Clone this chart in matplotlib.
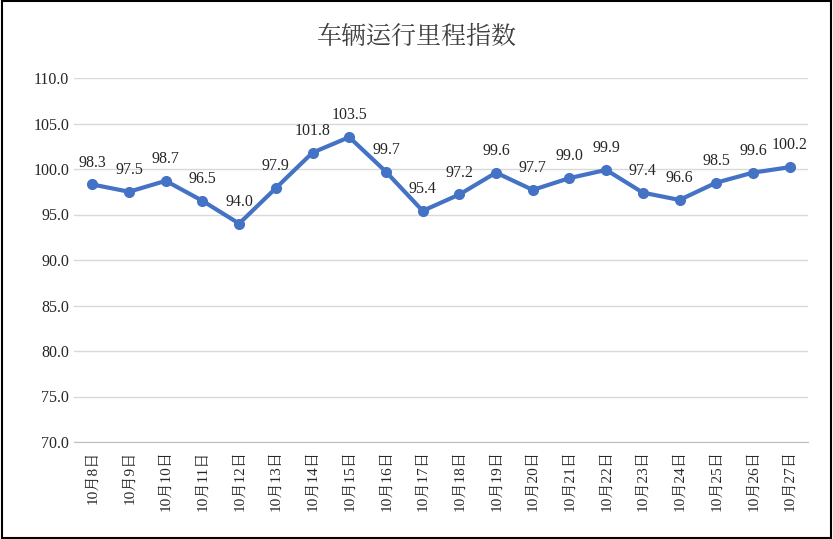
import matplotlib
matplotlib.use("Agg")
import matplotlib.pyplot as plt
from matplotlib import font_manager as fm
from matplotlib.patches import Rectangle

categories = ["10月8日","10月9日","10月10日","10月11日","10月12日","10月13日","10月14日","10月15日","10月16日","10月17日",
              "10月18日","10月19日","10月20日","10月21日","10月22日","10月23日","10月24日","10月25日","10月26日","10月27日"]
values = [98.3,97.5,98.7,96.5,94.0,97.9,101.8,103.5,99.7,95.4,97.2,99.6,97.7,99.0,99.9,97.4,96.6,98.5,99.6,100.2]
yticks = [70,75,80,85,90,95,100,105,110]

cjk = None
for f in fm.fontManager.ttflist:
    if "CJK" in f.name:
        cjk = f.name
        if "SC" in f.name:
            break
if cjk is None:
    for p in fm.findSystemFonts():
        if "CJK" in p:
            fm.fontManager.addfont(p)
            cjk = fm.FontProperties(fname=p).get_name()
            break
fams = ["Liberation Serif"] + ([cjk] if cjk else [])
plt.rcParams["font.family"] = fams

fig = plt.figure(figsize=(8.33, 5.39), dpi=100)
ax = fig.add_axes([74/833, 1-442/539, (808-74)/833, (442-78)/539])
x = list(range(len(values)))
ax.plot(x, values, color="#4472C4", lw=3, marker="o", ms=7, zorder=3)
for xi, v in zip(x, values):
    ax.annotate(f"{v:.1f}", (xi, v), xytext=(0, 10), textcoords="offset points",
                ha="center", va="bottom", fontsize=11.5, color="#262626")
ax.set_xlim(-0.5, len(values)-0.5)
ax.set_ylim(70, 110)
ax.set_yticks(yticks)
ax.set_yticklabels([f"{t:.1f}" for t in yticks], fontsize=11.5, color="#262626")
ax.set_xticks(x)
ax.set_xticklabels(categories, rotation=90, fontsize=11, color="#262626")
ax.grid(axis="y", color="#D9D9D9", lw=1)
for s in ["top", "right", "left"]:
    ax.spines[s].set_visible(False)
ax.spines["bottom"].set_color("#BFBFBF")
ax.tick_params(axis="y", length=0)
ax.tick_params(axis="x", length=0, pad=6)
fig.text(0.5, 1-37/539, "车辆运行里程指数", ha="center", va="center", fontsize=18,
         color="#404040")
fig.patches.append(Rectangle((0.002, 0.002), 0.996, 0.996, transform=fig.transFigure,
                             fill=False, ec="black", lw=1.5))
fig.savefig("out.png", dpi=100)
